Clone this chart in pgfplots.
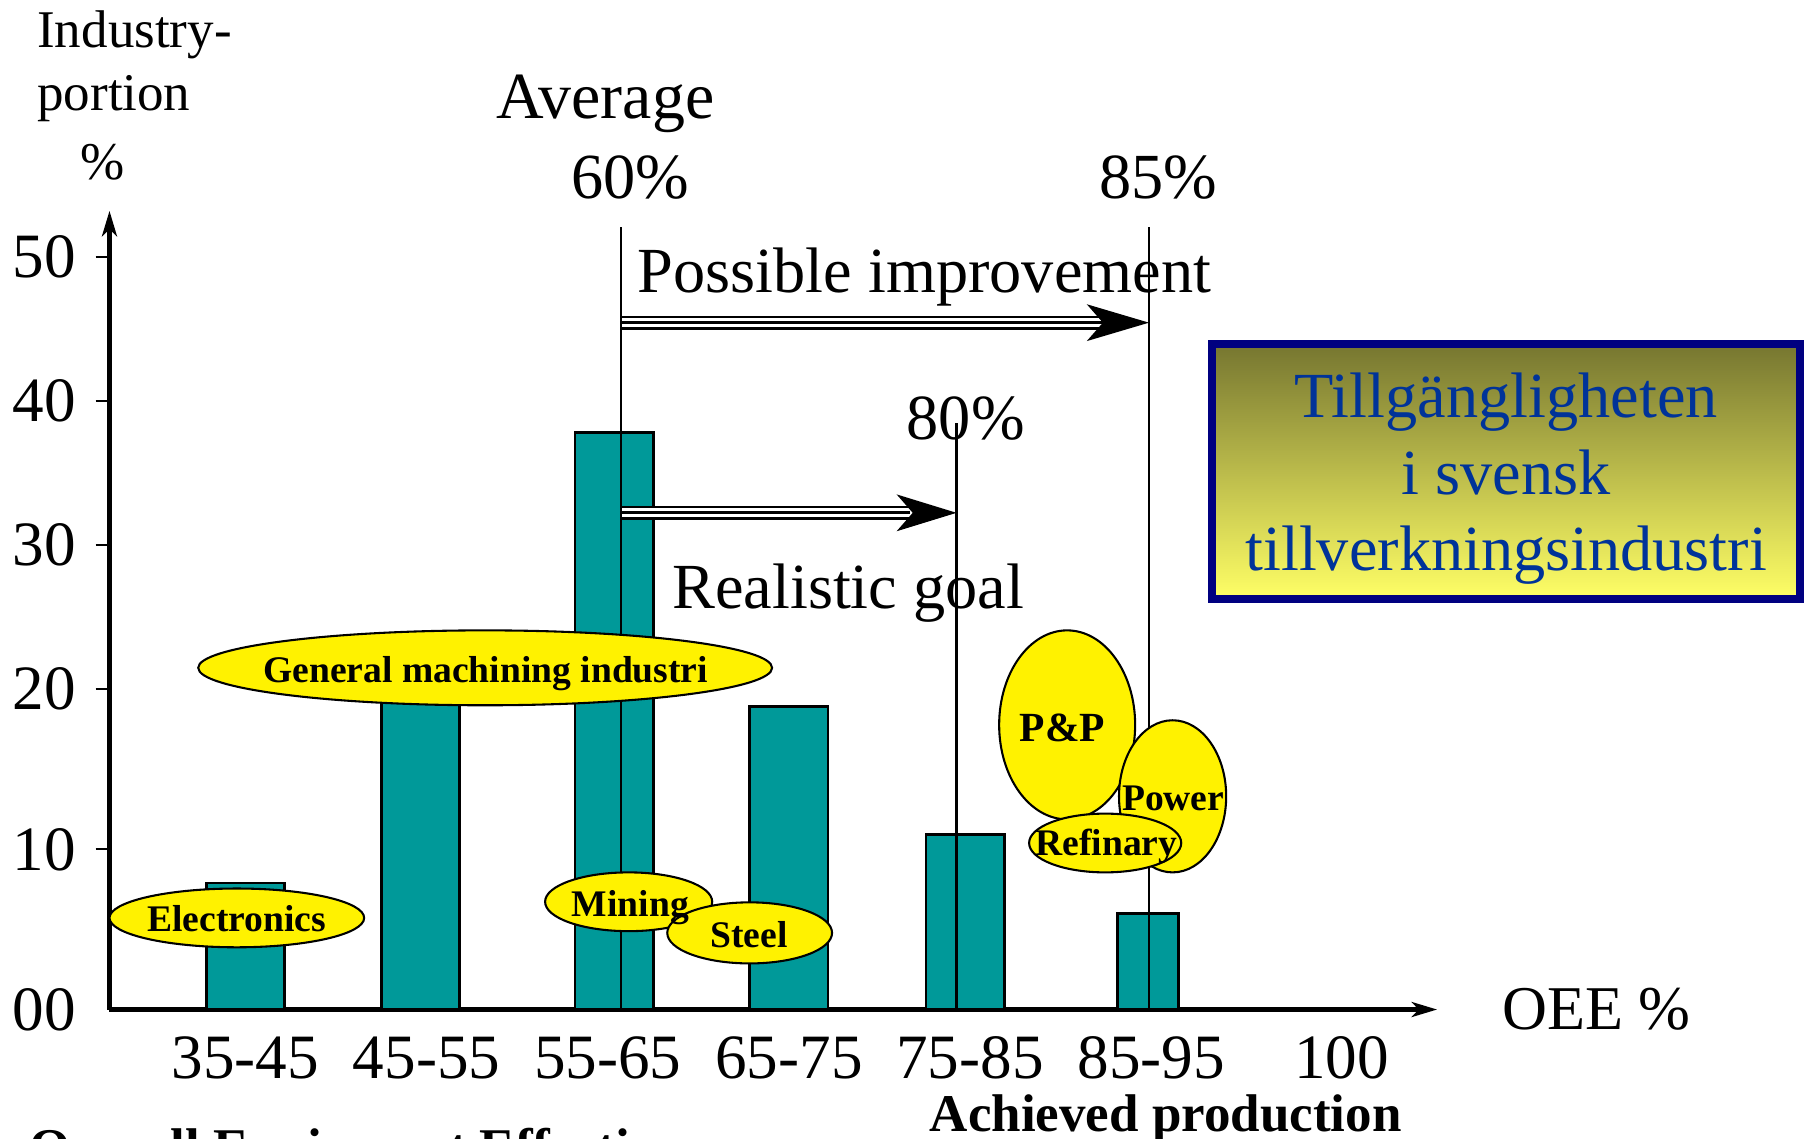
\documentclass[border=0pt]{standalone}
\usepackage{fontspec}
\setmainfont{Liberation Serif}
\usepackage{pgfplots}
\pgfplotsset{compat=1.18}
\usetikzlibrary{arrows.meta}
\definecolor{barteal}{RGB}{0,153,153}
\definecolor{boxblue}{RGB}{0,0,128}
\definecolor{txtblue}{RGB}{0,51,153}
\definecolor{boxtop}{RGB}{118,118,48}
\definecolor{boxbot}{RGB}{255,255,102}
\newcommand{\fbig}{\fontsize{27}{32}\selectfont}
\newcommand{\fann}{\fontsize{27.9}{33}\selectfont}
\newcommand{\fmid}{\fontsize{23}{27}\selectfont}
\newcommand{\fell}{\fontsize{16.3}{19}\selectfont\bfseries}
\begin{document}
\begin{tikzpicture}
\path[use as bounding box] (0,0) rectangle (784pt,-494pt);
\clip (0,0) rectangle (784pt,-494pt);
\begin{axis}[
  scale only axis, width=576pt, height=346.5pt,
  at={(47.5pt,-438pt)}, anchor=south west,
  clip=false,
  axis lines=left,
  axis line style={line width=1.8pt, -{Stealth[length=11pt,width=6.5pt,inset=3pt]}},
  xmin=-0.7506, xmax=6.578,
  ymin=0, ymax=53.2,
  y coord trafo/.code={\pgfmathparse{ifthenelse(#1<20,#1*1.112,#1+2.24)}},
  ytick={10,20,30,40,50},
  yticklabels={10,20,30,40,50},
  xtick={0,1,2,3,4,5,6.05},
  xticklabels={35-45,45-55,55-65,65-75,75-85,85-95,100},
  tick label style={font=\fontsize{27.4}{32}\selectfont},
  tick align=outside,
  major tick length=6pt,
  ytick style={black, line width=1pt},
  xtick style={draw=none},
  yticklabel style={anchor=east, inner sep=0pt, xshift=-8.5pt},
  xticklabel style={anchor=north, inner sep=0pt, yshift=-5.5pt},
]
\addplot[ybar, bar width=0.4326, bar shift=0pt, fill=barteal, draw=black, line width=1.2pt]
  coordinates {(0,7.9) (0.967,21) (2.036,37.8) (2.999,18.9) (3.973,10.95)};
\addplot[ybar, bar width=0.337, bar shift=0pt, fill=barteal, draw=black, line width=1.2pt]
  coordinates {(4.984,6.0)};
\addplot[black, line width=1pt] coordinates {(2.074,0) (2.074,52.1)};
\addplot[black, line width=1pt] coordinates {(3.925,0) (3.925,38.5)};
\addplot[black, line width=1pt] coordinates {(4.987,0) (4.987,52.1)};
\end{axis}
\begin{scope}[x=0.5pt,y=-0.5pt]
  % triple-line arrows
  \draw[line width=6pt] (539,280) -- (957,280);
  \draw[white, line width=3.8pt] (540,280) -- (957,280);
  \draw[line width=1.2pt] (539,280) -- (957,280);
  \fill (997,280) -- (943,264) -- (957,280) -- (943,296) -- cycle;
  \draw[line width=6pt] (539,445) -- (790,445);
  \draw[white, line width=3.8pt] (540,445) -- (790,445);
  \draw[line width=1.2pt] (539,445) -- (790,445);
  \fill (830,445) -- (778,429) -- (792,445) -- (778,461) -- cycle;
  % ellipses
  \draw[fill=yellow, line width=0.9pt] (205.5,796.5) ellipse [x radius=55.25pt, y radius=12.75pt];
  \draw[fill=yellow, line width=0.9pt] (421,579.5) ellipse [x radius=124.5pt, y radius=16.25pt];
  \draw[fill=yellow, line width=0.9pt] (545.5,782.5) ellipse [x radius=36.25pt, y radius=12.75pt];
  \draw[fill=yellow, line width=0.9pt] (650.5,809.5) ellipse [x radius=35.75pt, y radius=13.25pt];
  \draw[fill=yellow, line width=0.9pt] (926,629) ellipse [x radius=29.5pt, y radius=41pt];
  \draw[fill=yellow, line width=0.9pt] (1017.5,691) ellipse [x radius=23.25pt, y radius=33pt];
  \draw[fill=yellow, line width=0.9pt] (959,731.5) ellipse [x radius=33pt, y radius=12.75pt];
  \node[font=\fell, anchor=base, inner sep=0pt] at (205.5,808) {Electronics};
  \node[font=\fell, anchor=base, inner sep=0pt] at (421.5,592) {General machining industri};
  \node[font=\fell, anchor=base, inner sep=0pt] at (547,795) {Mining};
  \node[font=\fell, anchor=base, inner sep=0pt] at (650,822) {Steel};
  \node[font=\fontsize{18}{21}\selectfont\bfseries, anchor=base, inner sep=0pt] at (922,643) {P\&P};
  \node[font=\fell, anchor=base, inner sep=0pt] at (1018,703) {Power};
  \node[font=\fell, anchor=base, inner sep=0pt] at (960,742) {Refinary};
  % texts
  \node[font=\fmid, anchor=base west, inner sep=0pt] at (32,41) {Industry-};
  \node[font=\fmid, anchor=base west, inner sep=0pt] at (32,96) {portion};
  \node[font=\fmid, anchor=base, inner sep=0pt] at (89,156) {\%};
  \node[font=\fontsize{27.4}{32}\selectfont, anchor=east, inner sep=0pt] at (66,876) {00};
  \node[font=\fontsize{28.6}{33}\selectfont, anchor=base west, inner sep=0pt] at (430,103) {Average};
  \node[font=\fann, anchor=base, inner sep=0pt] at (547,172) {60\%};
  \node[font=\fann, anchor=base, inner sep=0pt] at (1005,172) {85\%};
  \node[font=\fann, anchor=base west, inner sep=0pt] at (553,254) {Possible improvement};
  \node[font=\fann, anchor=base, inner sep=0pt] at (838,381) {80\%};
  \node[font=\fann, anchor=base west, inner sep=0pt] at (583,528) {Realistic goal};
  \node[font=\fbig, anchor=base west, inner sep=0pt] at (1303,893) {OEE \%};
  \node[font=\fmid\bfseries, anchor=base, inner sep=0pt] at (1011.5,982) {Achieved production};
  \node[font=\fmid\bfseries, anchor=base west, inner sep=0pt] at (25,1011) {Overall Equipment Effectiveness};
  % box
  \shade[top color=boxtop, bottom color=boxbot] (1051.5,298.5) rectangle (1561.5,519.5);
  \draw[boxblue, line width=3.5pt] (1051.5,298.5) rectangle (1561.5,519.5);
  \node[font=\fann, text=txtblue, anchor=base, inner sep=0pt] at (1307,362) {Tillgängligheten};
  \node[font=\fann, text=txtblue, anchor=base, inner sep=0pt] at (1307,429) {i svensk};
  \node[font=\fann, text=txtblue, anchor=base, inner sep=0pt] at (1307,495) {tillverkningsindustri};
\end{scope}
\end{tikzpicture}
\end{document}
